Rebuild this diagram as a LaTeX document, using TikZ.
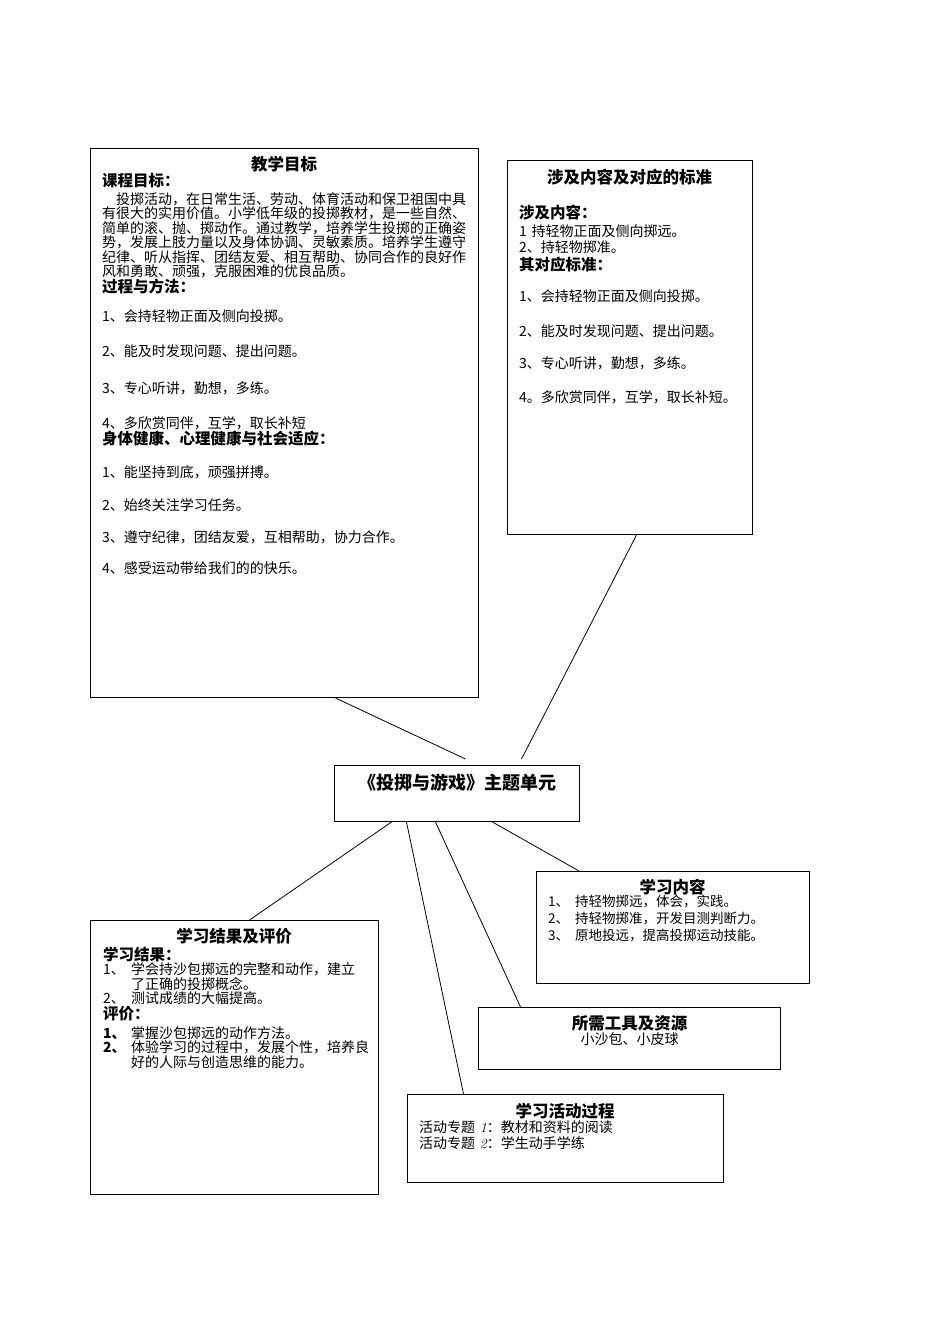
\documentclass[tikz,border=0pt]{standalone}
\usepackage{fontspec}
\setmainfont{Noto Sans CJK SC}
\newfontfamily\numit{Latin Modern Roman}
\usetikzlibrary{positioning}

\setlength{\parindent}{0pt}
\setlength{\lineskiplimit}{-20pt}
\newcommand{\bodyfont}{\fontsize{14}{14.5}\selectfont}
\newcommand{\headfont}{\fontsize{15.5}{16}\selectfont\bfseries}
\newcommand{\titlefont}{\fontsize{16.5}{17}\selectfont\bfseries}

\tikzset{
  panel/.style={draw, line width=1pt, anchor=north west, inner sep=0pt},
  paneltext/.style={inner sep=0pt, font=\bodyfont, align=left},
  link/.style={line width=0.8pt},
}

\begin{document}
\begin{tikzpicture}[x=1pt,y=1pt]
  \path[use as bounding box] (0,0) rectangle (950,-1344);

  % boxes
  \node[panel, minimum width=388pt, minimum height=549pt] (goal)     at (90,-148)  {};
  \node[panel, minimum width=245pt, minimum height=374pt] (standard) at (507,-160)  {};
  \node[panel, minimum width=245pt, minimum height=56pt]  (theme)    at (334,-765)  {};
  \node[panel, minimum width=288pt, minimum height=274pt] (result)   at (90,-920)   {};
  \node[panel, minimum width=273pt, minimum height=112pt] (content)  at (536,-871)  {};
  \node[panel, minimum width=302pt, minimum height=62pt]  (tools)    at (478,-1007) {};
  \node[panel, minimum width=316pt, minimum height=88pt]  (activity) at (407,-1094) {};

  % texts
  \node[paneltext, text width=364pt, below right=7.6pt and 12pt of goal.north west] (goaltext) {%
    {\centering\titlefont 教学目标\par}
    {\headfont 课程目标：\par}
    \vspace{3.5pt}\hspace*{1em}投掷活动，在日常生活、劳动、体育活动和保卫祖国中具\\
    有很大的实用价值。小学低年级的投掷教材，是一些自然、\\
    简单的滚、抛、掷动作。通过教学，培养学生投掷的正确姿\\
    势，发展上肢力量以及身体协调、灵敏素质。培养学生遵守\\
    纪律、听从指挥、团结友爱、相互帮助、协同合作的良好作\\
    风和勇敢、顽强，克服困难的优良品质。\par
    {\headfont 过程与方法：\par}
    \vspace{14.5pt}1、会持轻物正面及侧向投掷。\par
    \vspace{20.5pt}2、能及时发现问题、提出问题。\par
    \vspace{22.5pt}3、专心听讲，勤想，多练。\par
    \vspace{20.5pt}4、多欣赏同伴，互学，取长补短\par
    {\headfont 身体健康、心理健康与社会适应：\par}
    \vspace{18pt}1、能坚持到底，顽强拼搏。\par
    \vspace{19pt}2、始终关注学习任务。\par
    \vspace{17.5pt}3、遵守纪律，团结友爱，互相帮助，协力合作。\par
    \vspace{16.5pt}4、感受运动带给我们的的快乐。\par};

  \node[paneltext, text width=221pt, below right=8.6pt and 12pt of standard.north west] (standardtext) {%
    {\centering\titlefont 涉及内容及对应的标准\par}
    \vspace{19pt}{\headfont 涉及内容：\par}
    \vspace{3.5pt}1 持轻物正面及侧向掷远。\par
    \vspace{1.5pt}2、持轻物掷准。\par
    \vspace{2pt}{\headfont 其对应标准：\par}
    \vspace{16.5pt}1、会持轻物正面及侧向投掷。\par
    \vspace{20.5pt}2、能及时发现问题、提出问题。\par
    \vspace{17.5pt}3、专心听讲，勤想，多练。\par
    \vspace{19.5pt}4。多欣赏同伴，互学，取长补短。\par};

  \node[paneltext, text width=245pt, font=\fontsize{18}{19}\selectfont\bfseries, below=9pt of theme.north, anchor=north, align=center] (themetext)
    {《投掷与游戏》主题单元};

  \node[paneltext, text width=262pt, below right=7.6pt and 13pt of result.north west] (resulttext) {%
    {\centering\titlefont 学习结果及评价\par}
    \vspace{2pt}{\headfont 学习结果：\par}
    \makebox[28pt][l]{1、}学会持沙包掷远的完整和动作，建立\\
    \hspace*{28pt}了正确的投掷概念。\\
    \makebox[28pt][l]{2、}测试成绩的大幅提高。\par
    {\headfont 评价：\par}
    \vspace{4pt}\makebox[28pt][l]{\bfseries 1、}掌握沙包掷远的动作方法。\\
    \makebox[28pt][l]{\bfseries 2、}体验学习的过程中，发展个性，培养良\\
    \hspace*{28pt}好的人际与创造思维的能力。\par};

  \node[paneltext, text width=249pt, font=\fontsize{13.5}{17}\selectfont, below right=7.6pt and 12pt of content.north west] (contenttext) {%
    {\centering\titlefont 学习内容\par}
    \vspace{-4pt}\makebox[27pt][l]{1、}持轻物掷远，体会，实践。\\
    \makebox[27pt][l]{2、}持轻物掷准，开发目测判断力。\\
    \makebox[27pt][l]{3、}原地投远，提高投掷运动技能。\par};

  \node[paneltext, text width=278pt, align=center, below=8.6pt of tools.north, anchor=north] (toolstext) {%
    {\titlefont 所需工具及资源\par}
    小沙包、小皮球\par};

  \node[paneltext, text width=292pt, below right=8.6pt and 12pt of activity.north west] (activitytext) {%
    {\centering\titlefont 学习活动过程\par}
    \vspace{0.5pt}活动专题 {\numit\itshape 1}：教材和资料的阅读\\[2pt]
    活动专题 {\numit\itshape 2}：学生动手学练\par};

  % connectors
  \draw[link] ([xshift=51pt]goal.south) -- ([xshift=8.5pt,yshift=6pt]theme.north);
  \draw[link] ([xshift=6.5pt]standard.south) -- ([xshift=64.5pt,yshift=6pt]theme.north);
  \draw[link] ([xshift=-65.5pt]theme.south) -- ([xshift=15pt]result.north);
  \draw[link] ([xshift=-50.5pt]theme.south) -- ([xshift=-102pt]activity.north);
  \draw[link] ([xshift=-21.5pt]theme.south) -- ([xshift=-109pt]tools.north);
  \draw[link] ([xshift=35.5pt]theme.south) -- ([xshift=-94pt]content.north);
\end{tikzpicture}
\end{document}
